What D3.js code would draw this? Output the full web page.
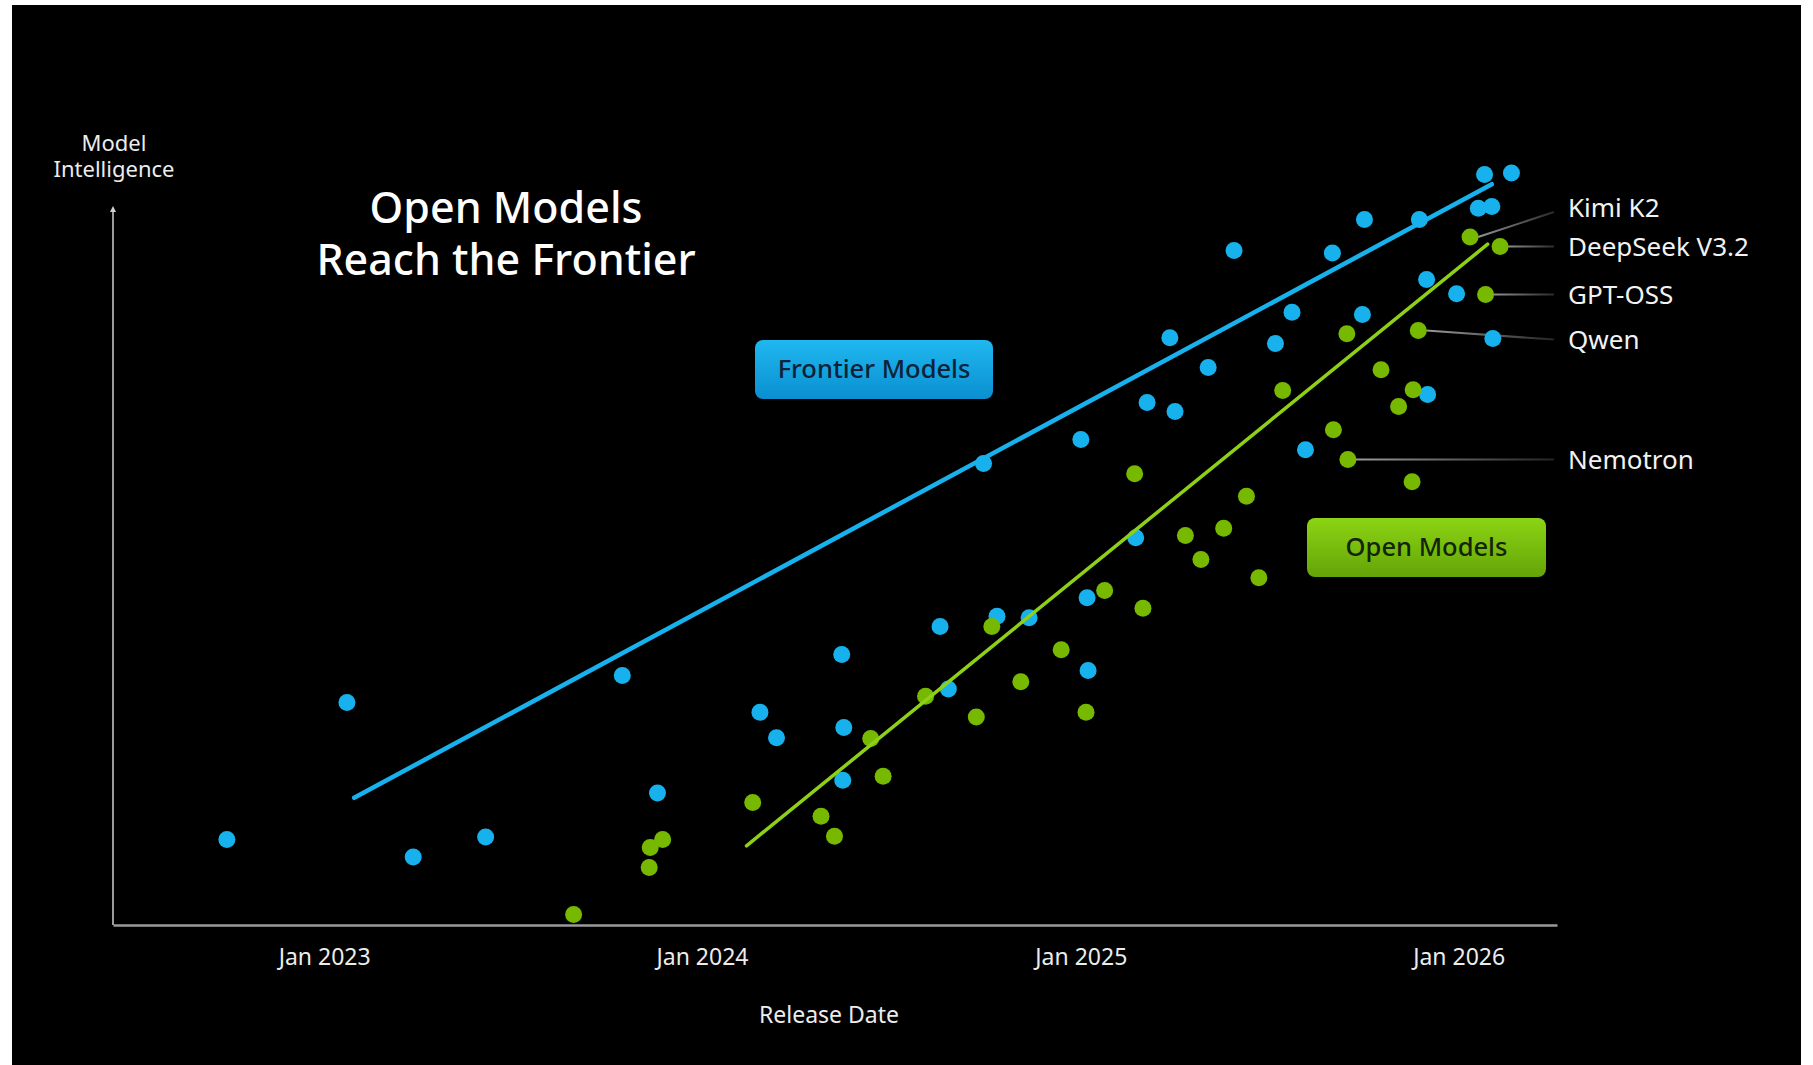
<!DOCTYPE html>
<html>
<head>
<meta charset="utf-8">
<script src="https://cdn.jsdelivr.net/npm/d3@7"></script>
<style>
  html, body { margin: 0; padding: 0; background: #ffffff; }
  svg { display: block; }
  text { font-family: "Noto Sans", "DejaVu Sans", sans-serif; }
</style>
</head>
<body>
<div id="chart"></div>
<script>

// values (score is an arbitrary 0-100 "intelligence" scale)
const xDomain = ["2022-06-11", "2026-04-06"];
const yDomain = [0, 100];
const tickDates = ["2023-01-01", "2024-01-01", "2025-01-01", "2026-01-01"];

const frontierDates = [
  "2022-09-29", "2023-01-23", "2023-03-28", "2023-06-06", "2023-10-16",
  "2023-11-19", "2024-02-26", "2024-03-13", "2024-05-15", "2024-05-17",
  "2024-05-16", "2024-08-18", "2024-08-26", "2024-09-29", "2024-10-12",
  "2024-11-12", "2025-01-01", "2025-01-07", "2025-01-08", "2025-02-23",
  "2025-03-06", "2025-03-28", "2025-04-02", "2025-05-04", "2025-05-29",
  "2025-07-08", "2025-07-24", "2025-08-06", "2025-09-01", "2025-09-30",
  "2025-10-02", "2025-11-24", "2025-12-01", "2025-12-02", "2025-12-30",
  "2026-01-20", "2026-01-26", "2026-02-02", "2026-02-03", "2026-02-21"
];
const frontierScores = [
  10.7, 27.8, 8.5, 11.0, 31.2,
  16.5, 26.6, 23.4, 33.8, 24.7,
  18.1, 37.3, 29.5, 57.7, 38.6,
  38.4, 60.7, 40.9, 31.8, 48.4,
  65.3, 73.4, 64.2, 69.7, 84.3,
  72.7, 76.6, 59.4, 84.0, 76.3,
  88.2, 88.2, 80.7, 66.3, 78.9,
  89.6, 93.8, 89.8, 73.3, 94.0
];

const openDates = [
  "2023-08-30", "2023-11-11", "2023-11-12", "2023-11-24", "2024-02-19",
  "2024-04-25", "2024-05-08", "2024-06-12", "2024-06-24", "2024-08-04",
  "2024-09-22", "2024-10-07", "2024-11-04", "2024-12-13", "2025-01-06",
  "2025-01-24", "2025-02-22", "2025-03-02", "2025-04-12", "2025-04-27",
  "2025-05-19", "2025-06-10", "2025-06-22", "2025-07-15", "2025-09-02",
  "2025-09-15", "2025-09-16", "2025-10-18", "2025-11-04", "2025-11-17",
  "2025-11-18", "2025-11-23", "2026-01-12", "2026-01-27", "2026-02-10"
];
const openScores = [
  1.3, 7.2, 9.7, 10.7, 15.3,
  13.6, 11.1, 23.3, 18.6, 28.6,
  26.0, 37.3, 30.4, 34.4, 26.6,
  41.8, 56.4, 39.6, 48.7, 45.7,
  49.6, 53.6, 43.4, 66.8, 61.9,
  73.9, 58.2, 69.4, 64.8, 55.4,
  66.9, 74.3, 86.0, 78.8, 84.8
];

const frontierTrendDates = ["2023-01-30", "2026-02-02"];
const frontierTrendScores = [15.9, 92.6];
const openTrendDates = ["2024-02-13", "2026-01-29"];
const openTrendScores = [9.9, 85.1];

const calloutNames = ["Kimi K2", "DeepSeek V3.2", "GPT-OSS", "Qwen", "Nemotron"];
const calloutDates = ["2026-01-12", "2026-02-10", "2026-01-27", "2025-11-23", "2025-09-16"];
const calloutScores = [86.0, 84.8, 78.8, 74.3, 58.2];

const width = 1813, height = 1065;
const margin = {top: 125, right: 256, bottom: 140, left: 113};

const parse = d3.timeParse("%Y-%m-%d");
const blue = "#17b2ee", green = "#76b900";

const svg = d3.select("#chart").append("svg")
    .attr("width", width)
    .attr("height", height)
    .attr("viewBox", [0, 0, width, height]);

// black slide panel with a thin white border round it
svg.append("rect").attr("x", 12).attr("y", 5)
    .attr("width", 1789).attr("height", height - 5)
    .attr("fill", "#000");

const xScale = d3.scaleTime()
    .domain(xDomain.map(parse))
    .range([margin.left, width - margin.right]);

const yScale = d3.scaleLinear()
    .domain(yDomain)
    .range([height - margin.bottom, margin.top]);

const defs = svg.append("defs");

defs.append("marker")
    .attr("id", "arrow")
    .attr("viewBox", "0 0 10 10")
    .attr("refX", 5).attr("refY", 5)
    .attr("markerWidth", 4).attr("markerHeight", 4)
    .attr("orient", "auto")
  .append("path")
    .attr("d", "M0,0 L10,5 L0,10 z")
    .attr("fill", "#cfcfcf");

function vGrad(id, top, bottom) {
  const g = defs.append("linearGradient").attr("id", id)
      .attr("x1", 0).attr("y1", 0).attr("x2", 0).attr("y2", 1);
  g.append("stop").attr("offset", "0%").attr("stop-color", top);
  g.append("stop").attr("offset", "100%").attr("stop-color", bottom);
}
vGrad("blueBadge", "#20b8f0", "#0a8fd0");
vGrad("greenBadge", "#8cd414", "#64a408");

// x axis
svg.append("g")
    .attr("transform", `translate(0,${height - margin.bottom})`)
    .call(d3.axisBottom(xScale)
        .tickValues(tickDates.map(parse))
        .tickFormat(d3.timeFormat("%b %Y"))
        .tickSize(0)
        .tickSizeOuter(0)
        .tickPadding(24))
    .call(g => g.select(".domain").attr("stroke", "#9a9a9a").attr("stroke-width", 2.5))
    .call(g => g.selectAll("text")
        .attr("fill", "#ececec")
        .attr("font-size", "23px")
        .attr("font-family", "Noto Sans, sans-serif"));

// y axis with arrow
svg.append("line")
    .attr("x1", margin.left).attr("x2", margin.left)
    .attr("y1", yScale(0)).attr("y2", yScale(89.5))
    .attr("stroke", "#cfcfcf")
    .attr("stroke-width", 1.5)
    .attr("marker-end", "url(#arrow)");

// two-line texts are one <text> with tspans
function multiline(x, y, lines, size, lineGap, weight, color) {
  const t = svg.append("text")
      .attr("x", x).attr("y", y)
      .attr("text-anchor", "middle")
      .attr("fill", color)
      .attr("font-size", size)
      .attr("font-weight", weight);
  lines.forEach((s, i) => {
    t.append("tspan").attr("x", x).attr("dy", i === 0 ? 0 : lineGap).text(s);
  });
}

multiline(114, 151, ["Model", "Intelligence"], "22px", 26, 400, "#ececec");
multiline(506, 223, ["Open Models", "Reach the Frontier"], "43px", 52, 500, "#fff");

svg.append("text")
    .attr("x", 829).attr("y", 1023)
    .attr("text-anchor", "middle")
    .attr("fill", "#ececec").attr("font-size", "23px")
    .text("Release Date");

// leader lines go in this group, under the dots
const callouts = svg.append("g");

// dots
const frontier = frontierDates.map((d, i) => ({date: parse(d), score: frontierScores[i]}));
const openSet = openDates.map((d, i) => ({date: parse(d), score: openScores[i]}));

svg.append("g").selectAll("circle")
    .data(frontier)
    .enter()
    .append("circle")
    .attr("cx", d => xScale(d.date))
    .attr("cy", d => yScale(d.score))
    .attr("r", 8.5)
    .attr("fill", blue);

svg.append("g").selectAll("circle")
    .data(openSet)
    .enter()
    .append("circle")
    .attr("cx", d => xScale(d.date))
    .attr("cy", d => yScale(d.score))
    .attr("r", 8.5)
    .attr("fill", green);

// trend lines
const line = d3.line().x(d => xScale(d.date)).y(d => yScale(d.score));

svg.append("path")
    .datum(frontierTrendDates.map((d, i) => ({date: parse(d), score: frontierTrendScores[i]})))
    .attr("d", line)
    .attr("fill", "none")
    .attr("stroke", blue)
    .attr("stroke-width", 4.5)
    .attr("stroke-linecap", "round");

svg.append("path")
    .datum(openTrendDates.map((d, i) => ({date: parse(d), score: openTrendScores[i]})))
    .attr("d", line)
    .attr("fill", "none")
    .attr("stroke", "#8ed016")
    .attr("stroke-width", 3.5)
    .attr("stroke-linecap", "round");

// callouts on the right
const labelX = 1568;
const labelShift = [-29, 0, 0, 9, 0];
calloutNames.forEach((name, i) => {
  const cx = xScale(parse(calloutDates[i]));
  const cy = yScale(calloutScores[i]);
  const ly = cy + labelShift[i];
  const gid = "lead" + i;
  const g = defs.append("linearGradient").attr("id", gid)
      .attr("gradientUnits", "userSpaceOnUse")
      .attr("x1", cx).attr("y1", 0).attr("x2", labelX - 8).attr("y2", 0);
  g.append("stop").attr("offset", "0%").attr("stop-color", "#a0a0a0");
  g.append("stop").attr("offset", "100%").attr("stop-color", "#202020");
  callouts.append("line")
      .attr("x1", cx + 8).attr("y1", cy)
      .attr("x2", labelX - 14).attr("y2", ly + (i === 0 ? 4 : 0))
      .attr("stroke", `url(#${gid})`)
      .attr("stroke-width", 2);
  svg.append("text")
      .attr("x", labelX).attr("y", ly)
      .attr("dy", "0.35em")
      .attr("fill", "#f2f2f2").attr("font-size", "26px")
      .text(name);
});

// badges
function badge(x, y, w, h, fillId, textColor, label) {
  svg.append("rect")
      .attr("x", x).attr("y", y).attr("width", w).attr("height", h)
      .attr("rx", 8)
      .attr("fill", `url(#${fillId})`);
  svg.append("text")
      .attr("x", x + w / 2).attr("y", y + h / 2)
      .attr("dy", "0.35em")
      .attr("text-anchor", "middle")
      .attr("fill", textColor)
      .attr("font-size", "25.5px")
      .attr("font-weight", 500)
      .text(label);
}
badge(755, 340, 238, 59, "blueBadge", "#0b2238", "Frontier Models");
badge(1307, 518, 239, 59, "greenBadge", "#14240a", "Open Models");

</script>
</body>
</html>
